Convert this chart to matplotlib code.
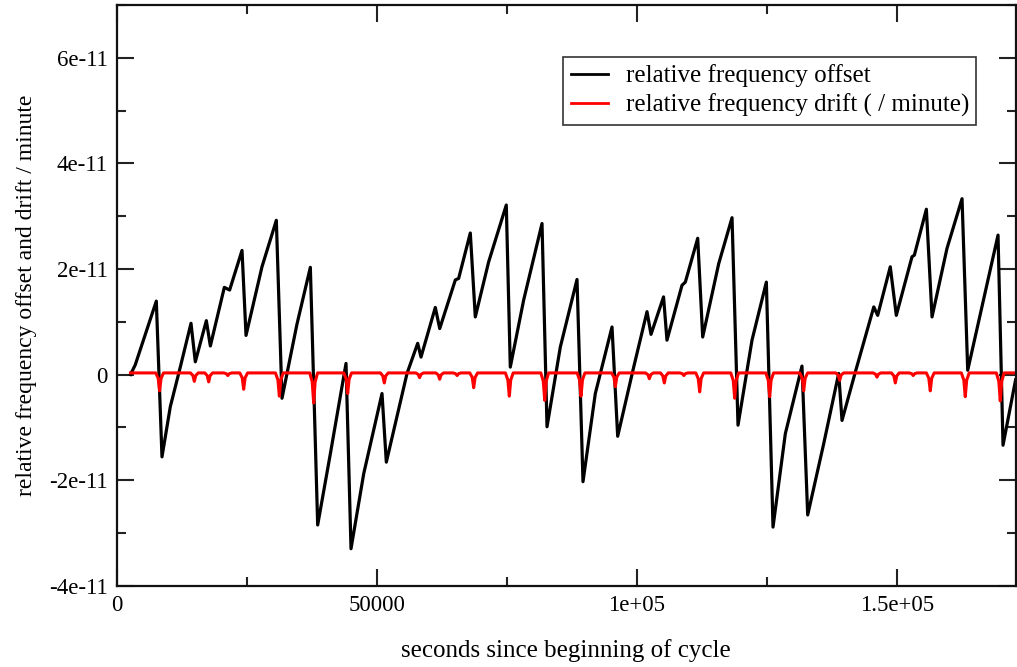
import numpy as np
import matplotlib
matplotlib.use("Agg")
import matplotlib.pyplot as plt
from matplotlib.ticker import FixedLocator, FixedFormatter, MultipleLocator

UNIT = 1e-11  # values below are given in units of 1e-11

# relative frequency offset: time [s], value [1e-11]
offset_t = [2600, 3500, 7560, 8650, 10250, 12170, 14230, 15060, 17180, 17950,
            20640, 21660, 24040, 24810, 27880, 30640, 31730, 34600, 37180, 38590,
            41030, 44040, 45000, 47440, 50960, 51790, 55770, 57820, 58460, 61210,
            62060, 65060, 65700, 67940, 68900, 71460, 74860, 75630, 78200, 81730,
            82690, 85250, 88460, 89610, 91980, 95190, 96280, 99360, 101920, 102690,
            105100, 105760, 108650, 109290, 111670, 112630, 115710, 118270, 119420, 122110,
            124870, 126150, 128520, 131720, 132820, 135900, 138780, 139420, 141990, 145530,
            146280, 148700, 149860, 152880, 153330, 155640, 156730, 159610, 162500, 163590,
            169420, 170380, 172800]
offset_v = [0.00, 0.18, 1.39, -1.56, -0.61, 0.14, 0.97, 0.24, 1.02, 0.54,
            1.65, 1.60, 2.35, 0.74, 2.04, 2.92, -0.45, 0.95, 2.03, -2.85,
            -1.50, 0.21, -3.30, -1.88, -0.36, -1.66, 0.02, 0.59, 0.33, 1.27,
            0.87, 1.79, 1.82, 2.68, 1.09, 2.13, 3.21, 0.14, 1.41, 2.86,
            -0.99, 0.52, 1.80, -2.03, -0.36, 0.90, -1.17, 0.14, 1.19, 0.76,
            1.47, 0.65, 1.69, 1.75, 2.58, 0.71, 2.10, 2.97, -0.96, 0.65,
            1.75, -2.89, -1.12, 0.16, -2.66, -1.31, 0.02, -0.87, 0.05, 1.28,
            1.12, 2.04, 1.12, 2.23, 2.26, 3.13, 1.09, 2.39, 3.33, 0.08,
            2.64, -1.34, -0.10]

# relative frequency drift per minute: quiet level and dips [1e-11]
drift_start, drift_end = 2600, 172800
drift_level = 0.03
dip_t = [8200, 14870, 17630, 21300, 24360, 31220, 37820, 44360, 51400, 58190,
         62050, 65400, 68590, 75440, 82250, 89230, 95830, 102370, 105250, 109000,
         112050, 118780, 125510, 132050, 138970, 146140, 149670, 153100, 156390, 163120,
         169850]
dip_v = [-0.31, -0.13, -0.14, -0.02, -0.28, -0.41, -0.54, -0.36, -0.16, -0.06,
         -0.09, -0.02, -0.25, -0.41, -0.49, -0.41, -0.23, -0.08, -0.16, -0.02,
         -0.33, -0.45, -0.42, -0.31, -0.11, -0.05, -0.16, -0.02, -0.31, -0.42,
         -0.50]

x_ticks = [0, 50000, 100000, 150000]
x_tick_labels = ["0", "50000", "1e+05", "1.5e+05"]
y_ticks = [-4, -2, 0, 2, 4, 6]
y_tick_labels = ["-4e-11", "-2e-11", "0", "2e-11", "4e-11", "6e-11"]

# build the drift polyline: flat level with a narrow funnel-shaped dip at each event
dx, dv = [drift_start], [drift_level]
for t, v in zip(dip_t, dip_v):
    dx += [t - 750, t - 280, t, t + 280, t + 750]
    dv += [drift_level, drift_level + 0.3 * (v - drift_level), v,
           drift_level + 0.3 * (v - drift_level), drift_level]
dx.append(drift_end)
dv.append(drift_level)

FONT = "Liberation Serif"
plt.rcParams["font.family"] = FONT

W, H = 1017, 667
fig = plt.figure(figsize=(W / 100, H / 100), dpi=100)
ax = fig.add_axes([117 / W, (H - 585.7) / H, 898.6 / W, 580.8 / H])

ax.plot(offset_t, np.array(offset_v) * UNIT, color="black", lw=2.3,
        label="relative frequency offset", solid_joinstyle="round")
ax.plot(dx, np.array(dv) * UNIT, color="#ff0000", lw=2.2,
        label="relative frequency drift ( / minute)")

ax.set_xlim(0, 172800)
ax.set_ylim(-4 * UNIT, 7 * UNIT)

ax.xaxis.set_major_locator(FixedLocator(x_ticks))
ax.xaxis.set_major_formatter(FixedFormatter(x_tick_labels))
ax.xaxis.set_minor_locator(MultipleLocator(25000))
ax.yaxis.set_major_locator(FixedLocator([v * UNIT for v in y_ticks]))
ax.yaxis.set_major_formatter(FixedFormatter(y_tick_labels))
ax.yaxis.set_minor_locator(MultipleLocator(1 * UNIT))

ax.tick_params(which="both", direction="in", top=True, right=True,
               width=1.5, color="#222222", labelsize=16.5, pad=6.5)
ax.tick_params(which="major", length=12.5)
ax.tick_params(which="minor", length=6.5)
for s in ax.spines.values():
    s.set_linewidth(1.6)
    s.set_color("#111111")

ax.set_xlabel("seconds since beginning of cycle", fontsize=18)
ax.xaxis.set_label_coords(0.5, (585.7 - 651) / 580.8)
ax.xaxis.label.set_va("center")
ax.set_ylabel("relative frequency offset and drift / minute", fontsize=17)
ax.yaxis.set_label_coords((27 - 117) / 898.6, 0.5)
ax.yaxis.label.set_va("center")

leg = ax.legend(loc="upper left", bbox_to_anchor=((563 - 117) / 898.6, (585.7 - 57) / 580.8),
                fontsize=18, frameon=True, fancybox=False, framealpha=1,
                borderaxespad=0, borderpad=0.3, handlelength=1.5, handletextpad=0.7,
                labelspacing=0.25)
leg.get_frame().set_edgecolor("#333333")
leg.get_frame().set_linewidth(1.2)
for line in leg.get_lines():
    line.set_linewidth(2.0)

fig.savefig("out.png", dpi=100)
